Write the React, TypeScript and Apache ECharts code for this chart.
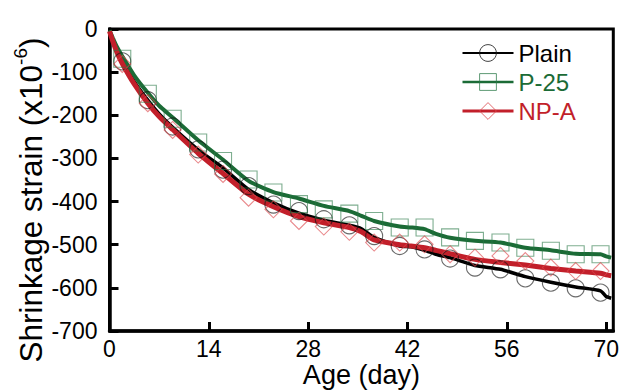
import { useEffect, useRef } from 'react';
import * as echarts from 'echarts';

const FONT = "'Liberation Sans', Arial, Helvetica, sans-serif";

// Continuous (sensor) curves
const lineDays = [0, 0.5, 1, 1.8, 3.5, 5.4, 7, 8.9, 12.5, 16, 19.6, 23.1, 26.7, 30.2, 33.8, 35.5, 37.3, 40.9, 42.5, 44.4, 46, 48, 51.5, 55.1, 58.6, 62.2, 65.7, 69.2, 70, 70.7];
const plainLine = [-5, -28, -50, -75, -122, -165, -197, -228, -280, -322, -372, -403, -427, -443, -455, -463, -483, -503, -505, -513, -522, -530, -548, -557, -574, -587, -598, -607, -620, -624];
const p25Line = [-3, -22, -40, -63, -108, -148, -178, -205, -258, -303, -352, -378, -393, -410, -422, -433, -445, -458, -460, -464, -475, -484, -491, -495, -507, -513, -521, -522, -527, -530];
const npaLine = [-5, -30, -52, -80, -128, -172, -203, -233, -288, -335, -383, -412, -435, -449, -460, -470, -489, -500, -503, -507, -513, -521, -534, -541, -547, -555, -561, -566, -570, -572];

// Marker points
const markerDays = [1.8, 5.4, 8.9, 12.5, 16, 19.6, 23.1, 26.7, 30.2, 33.8, 37.3, 40.9, 44.4, 48, 51.5, 55.1, 58.6, 62.2, 65.7, 69.2];
const plainMarks = [-75, -165, -226, -279, -326, -364, -407, -422, -441, -455, -480, -503, -511, -532, -553, -557, -578, -588, -601, -611];
const p25Marks = [-69, -150, -208, -263, -306, -349, -379, -406, -418, -428, -445, -460, -460, -483, -491, -495, -507, -514, -522, -522];
const npaMarks = [-81, -172, -234, -291, -336, -391, -418, -445, -458, -470, -495, -495, -499, -522, -530, -526, -538, -553, -561, -561];

const seriesNames = ['Plain', 'P-25', 'NP-A'];

const pair = (xs: number[], ys: number[]) => xs.map((x, i) => [x, ys[i]]);

export default function App() {
  const ref = useRef<HTMLDivElement>(null);
  useEffect(() => {
    if (!ref.current) return;
    const chart = echarts.init(ref.current, undefined, { renderer: 'svg' });
    const cfg = [
      { name: seriesNames[0], line: plainLine, marks: plainMarks, color: '#000000', width: 3.5, sym: 'circle', mark: 'rgba(20,20,20,0.8)', legendW: 2 },
      { name: seriesNames[1], line: p25Line, marks: p25Marks, color: '#1b6b36', width: 4, sym: 'rect', mark: 'rgba(40,120,70,0.75)', legendW: 2.5 },
      { name: seriesNames[2], line: npaLine, marks: npaMarks, color: '#c21f2a', width: 5, sym: 'diamond', mark: 'rgba(220,70,75,0.8)', legendW: 3 },
    ];
    const series: any[] = [];
    cfg.forEach((c) => {
      series.push({
        type: 'line',
        name: c.name,
        data: pair(lineDays, c.line),
        symbol: c.sym,
        symbolSize: 17,
        showSymbol: false,
        smooth: 0.2,
        lineStyle: { color: c.color, width: c.width },
        itemStyle: { color: 'rgba(0,0,0,0)', borderColor: c.mark, borderWidth: 1 },
        z: 2,
      });
      series.push({
        type: 'scatter',
        name: c.name,
        data: pair(markerDays, c.marks),
        symbol: c.sym,
        symbolSize: 17,
        itemStyle: { color: 'rgba(0,0,0,0)', borderColor: c.mark, borderWidth: 1.1 },
        z: 3,
      });
    });
    chart.setOption({
      animation: false,
      grid: { left: 109.5, right: 19.7, top: 29, bottom: 60, show: true, borderColor: '#000', borderWidth: 3, containLabel: false, outerBoundsMode: 'none' },
      xAxis: {
        type: 'value', min: 0, max: 71, interval: 14,
        name: 'Age (day)', nameLocation: 'middle', nameGap: 30, nameMoveOverlap: false,
        nameTextStyle: { fontSize: 27, lineHeight: 27, color: '#000', fontFamily: FONT },
        axisLine: { show: true, onZero: false, lineStyle: { color: '#000', width: 3.5 } },
        axisTick: { show: true, inside: true, length: 9, lineStyle: { color: '#000', width: 3 } },
        axisLabel: { fontSize: 23, color: '#000', fontFamily: FONT, margin: 6, showMaxLabel: false },
        splitLine: { show: false },
      },
      yAxis: {
        type: 'value', min: -700, max: 0, interval: 100,
        axisLine: { show: true, onZero: false, lineStyle: { color: '#000', width: 3.5 } },
        axisTick: { show: true, inside: true, length: 9, lineStyle: { color: '#000', width: 3 } },
        axisLabel: { fontSize: 23, color: '#000', fontFamily: FONT, margin: 12 },
        splitLine: { show: false },
      },
      legend: {
        orient: 'vertical', left: 461, top: 41, itemWidth: 51, itemHeight: 21, itemGap: 5, padding: 0,
        selectedMode: false,
        textStyle: { fontSize: 24, fontFamily: FONT },
        data: cfg.map((c) => ({
          name: c.name,
          itemStyle: { color: 'rgba(0,0,0,0)', borderColor: c.mark, borderWidth: 1 },
          lineStyle: { color: c.color, width: c.legendW },
          textStyle: { color: c.color, fontSize: 24, fontFamily: FONT },
        })),
      },
      graphic: [
        {
          type: 'text', x: 31, y: 200, rotation: Math.PI / 2,
          style: {
            text: 'Shrinkage strain (x10{sup|-6})',
            fontSize: 31.5, fontFamily: FONT, fill: '#000',
            align: 'center', verticalAlign: 'middle', lineHeight: 40,
            rich: { sup: { fontSize: 19, fontFamily: FONT, fill: '#000', verticalAlign: 'top', lineHeight: 19 } },
          },
        },
      ],
      series,
    });
    return () => chart.dispose();
  }, []);
  return <div ref={ref} style={{ width: 633, height: 391, position: 'absolute', left: 0, top: 0 }} />;
}
